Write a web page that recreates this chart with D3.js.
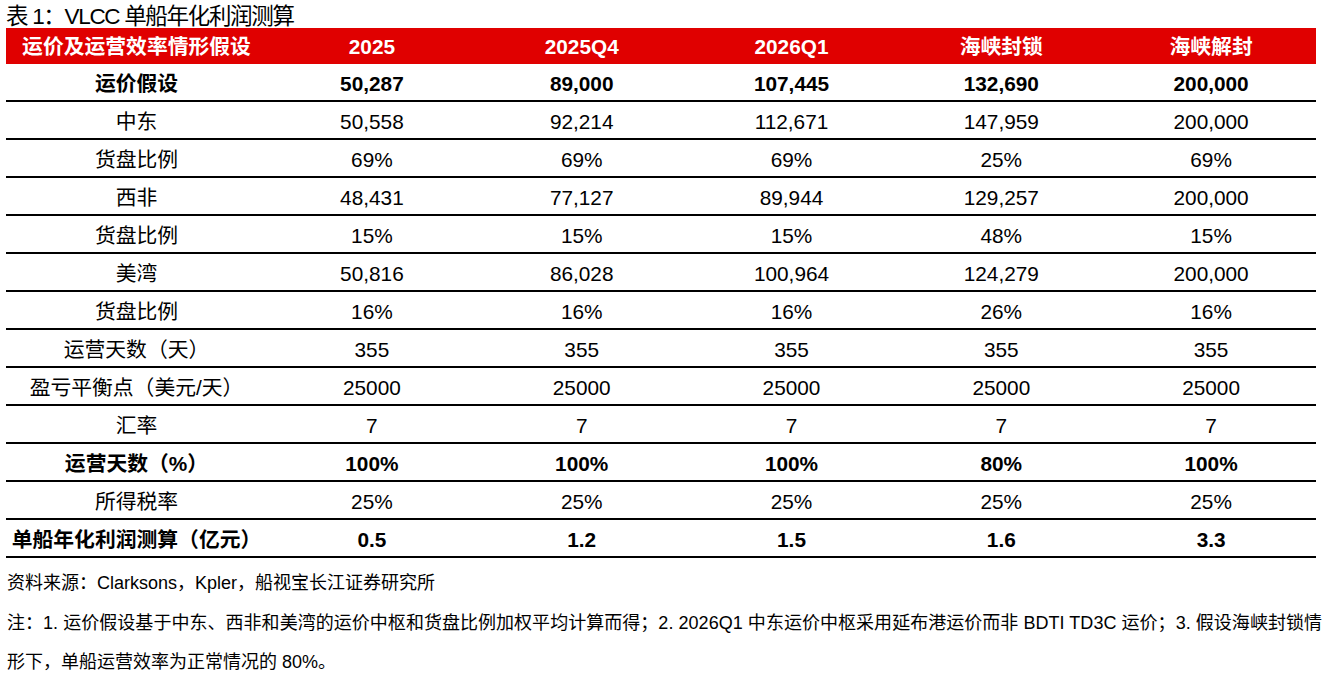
<!DOCTYPE html>
<html><head><meta charset="utf-8">
<script src="https://cdn.jsdelivr.net/npm/d3@7"></script>
<style>
html,body{margin:0;padding:0;background:#fff;}
svg{display:block;font-family:"Liberation Sans",Arial,"Noto Sans CJK SC",sans-serif;}
</style></head>
<body>
<svg id="chart" width="1325" height="674"></svg>
<script>
const title = "表 1：VLCC 单船年化利润测算";
const headerLabel = "运价及运营效率情形假设";
const columns = ["2025", "2025Q4", "2026Q1", "海峡封锁", "海峡解封"];
const rowLabels = ["运价假设", "中东", "货盘比例", "西非", "货盘比例", "美湾", "货盘比例",
  "运营天数（天）", "盈亏平衡点（美元/天）", "汇率", "运营天数（%）", "所得税率", "单船年化利润测算（亿元）"];
const boldRows = [0, 10, 12];
const col2025   = ["50,287", "50,558", "69%", "48,431", "15%", "50,816", "16%", "355", "25000", "7", "100%", "25%", "0.5"];
const col2025Q4 = ["89,000", "92,214", "69%", "77,127", "15%", "86,028", "16%", "355", "25000", "7", "100%", "25%", "1.2"];
const col2026Q1 = ["107,445", "112,671", "69%", "89,944", "15%", "100,964", "16%", "355", "25000", "7", "100%", "25%", "1.5"];
const colBlock  = ["132,690", "147,959", "25%", "129,257", "48%", "124,279", "26%", "355", "25000", "7", "80%", "25%", "1.6"];
const colOpen   = ["200,000", "200,000", "69%", "200,000", "15%", "200,000", "16%", "355", "25000", "7", "100%", "25%", "3.3"];
const source = "资料来源：Clarksons，Kpler，船视宝长江证券研究所";
const note1 = "注：1. 运价假设基于中东、西非和美湾的运价中枢和货盘比例加权平均计算而得；2. 2026Q1 中东运价中枢采用延布港运价而非 BDTI TD3C 运价；3. 假设海峡封锁情";
const note2 = "形下，单船运营效率为正常情况的 80%。";

const colValues = [col2025, col2025Q4, col2026Q1, colBlock, colOpen];

const svg = d3.select("#chart");
const left = 6, right = 1316, firstColRight = 267;
const headerTop = 28, headerBottom = 64, tableBottom = 557;
const fs = 20.8;

const x = d3.scaleBand().domain(columns).range([firstColRight, right]);
const y = d3.scaleBand().domain(d3.range(rowLabels.length)).range([headerBottom - 1, tableBottom]);
const labelX = (left + firstColRight) / 2;

// title
svg.append("text").attr("x", 6).attr("y", 24).attr("font-size", 22.5).attr("fill", "#000")
  .attr("textLength", 289).attr("lengthAdjust", "spacing").text(title);

// header
svg.append("rect").attr("x", left).attr("y", headerTop).attr("width", right - left)
  .attr("height", headerBottom - headerTop).attr("fill", "#e00000");
const hy = (headerTop + headerBottom) / 2;
svg.append("text").attr("x", labelX).attr("y", hy).attr("dy", "0.4em").attr("text-anchor", "middle")
  .attr("font-size", fs).attr("font-weight", "bold").attr("fill", "#fff").text(headerLabel);
svg.selectAll("text.hcol").data(columns).join("text").attr("class", "hcol")
  .attr("x", d => x(d) + x.bandwidth() / 2).attr("y", hy).attr("dy", "0.4em")
  .attr("text-anchor", "middle").attr("font-size", fs).attr("font-weight", "bold")
  .attr("fill", "#fff").text(d => d);

// rows
const rows = svg.selectAll("g.row").data(rowLabels).join("g").attr("class", "row")
  .attr("transform", (d, i) => `translate(0,${y(i)})`);
rows.append("line").attr("x1", left).attr("x2", right)
  .attr("y1", y.bandwidth()).attr("y2", y.bandwidth()).attr("stroke", "#000").attr("stroke-width", 2);
rows.append("text").attr("x", labelX).attr("y", y.bandwidth() / 2).attr("dy", "0.42em")
  .attr("text-anchor", "middle").attr("font-size", fs)
  .attr("font-weight", (d, i) => boldRows.includes(i) ? "bold" : "normal")
  .attr("fill", "#000").text(d => d);
rows.each(function(d, i) {
  d3.select(this).selectAll("text.val").data(columns).join("text").attr("class", "val")
    .attr("x", c => x(c) + x.bandwidth() / 2).attr("y", y.bandwidth() / 2).attr("dy", "0.42em")
    .attr("text-anchor", "middle").attr("font-size", fs)
    .attr("font-weight", boldRows.includes(i) ? "bold" : "normal")
    .attr("fill", "#000").text((c, j) => colValues[j][i]);
});

// footnotes
svg.append("text").attr("x", 7).attr("y", 589).attr("font-size", 18).attr("fill", "#000").text(source);
svg.append("text").attr("x", 7).attr("y", 629).attr("font-size", 18).attr("fill", "#000")
  .attr("textLength", 1315).attr("lengthAdjust", "spacing").text(note1);
svg.append("text").attr("x", 7).attr("y", 668).attr("font-size", 18).attr("fill", "#000").text(note2);
</script>
</body></html>
